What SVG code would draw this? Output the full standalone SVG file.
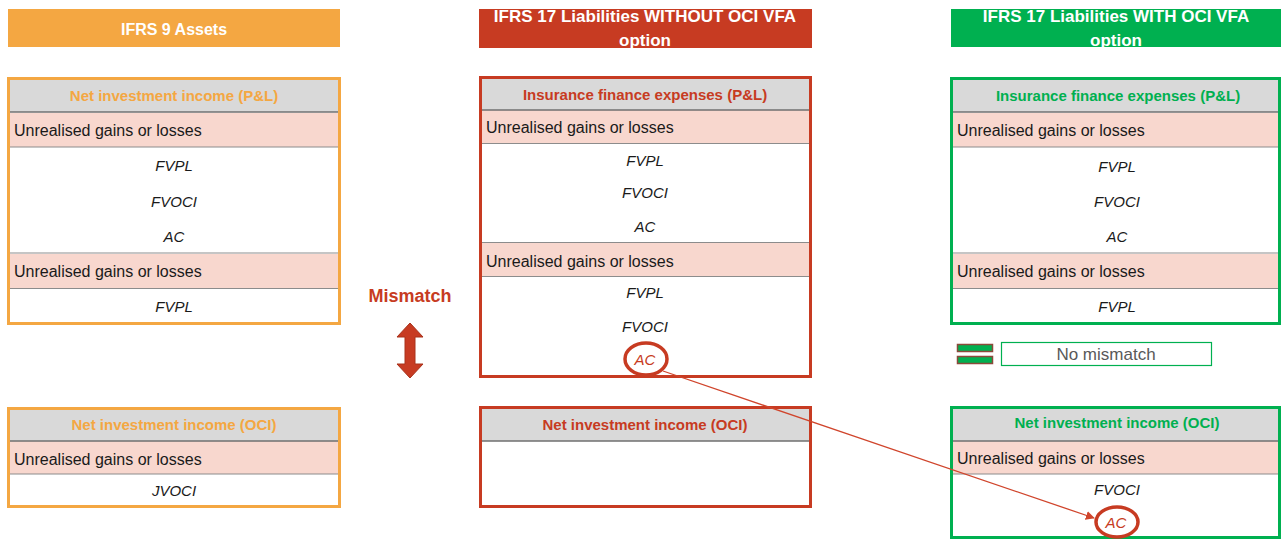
<svg xmlns="http://www.w3.org/2000/svg" width="1282" height="539" viewBox="0 0 1282 539">
  <style>
    text { font-family: "Liberation Sans", Arial, sans-serif; }
    .bar-title { font-size: 16px; font-weight: bold; fill: #ffffff; text-anchor: middle; }
    .bar-title.long { font-size: 17px; }
    .sec-title { font-size: 15px; font-weight: bold; text-anchor: middle; }
    .row { font-size: 16px; fill: #1a1a1a; }
    .item { font-size: 15px; font-style: italic; fill: #1a1a1a; text-anchor: middle; }
    .item.flag { fill: #c73b22; }
    .gray { fill: #d9d9d9; }
    .pink { fill: #f8d7ce; }
    .rule { stroke: #8c8c8c; stroke-width: 1.2; }
    .rule-dark { stroke: #6f6f6f; stroke-width: 1.5; }
    .orange { stroke: #f4a742; }
    .red { stroke: #c73b22; }
    .green { stroke: #00b050; }
    .frame { fill: #ffffff; stroke-width: 3; }
    .ring { fill: none; stroke: #c73b22; stroke-width: 3.5; }
  </style>
  <defs>
    <marker id="arrowhead" viewBox="0 0 10 10" refX="9" refY="5" markerWidth="9" markerHeight="9" orient="auto" markerUnits="userSpaceOnUse">
      <path d="M0,0 L10,5 L0,10 z" fill="#d0452c"/>
    </marker>
  </defs>

  <rect width="1282" height="539" fill="#ffffff"/>

  <!-- Column headers -->
  <g id="hdr-ifrs9">
    <rect x="8" y="9" width="332" height="38" fill="#f4a742"/>
    <text class="bar-title" x="174" y="35">IFRS 9 Assets</text>
  </g>
  <g id="hdr-without-oci">
    <rect x="479" y="9" width="333" height="39" fill="#c73b22"/>
    <text class="bar-title long" x="645" y="22">IFRS 17 Liabilities WITHOUT OCI VFA</text>
    <text class="bar-title long" x="645" y="46">option</text>
  </g>
  <g id="hdr-with-oci">
    <rect x="951" y="9" width="330" height="38" fill="#00b050"/>
    <text class="bar-title long" x="1116" y="22">IFRS 17 Liabilities WITH OCI VFA</text>
    <text class="bar-title long" x="1116" y="46">option</text>
  </g>

  <!-- IFRS 9: P&L -->
  <g id="ifrs9-pl">
    <rect class="frame orange" x="8.5" y="78.5" width="331" height="245"/>
    <rect class="gray" x="10" y="80" width="328" height="32"/>
    <rect class="pink" x="10" y="113" width="328" height="34"/>
    <rect class="pink" x="10" y="254" width="328" height="34"/>
    <line class="rule-dark" x1="10" y1="112" x2="338" y2="112"/>
    <line class="rule" x1="10" y1="147" x2="338" y2="147"/>
    <line class="rule" x1="10" y1="253" x2="338" y2="253"/>
    <line class="rule" x1="10" y1="288.5" x2="338" y2="288.5"/>
    <text class="sec-title" x="174" y="101" fill="#f4a742">Net investment income (P&amp;L)</text>
    <text class="row" x="14" y="136">Unrealised gains or losses</text>
    <text class="item" x="174" y="171">FVPL</text>
    <text class="item" x="174" y="207">FVOCI</text>
    <text class="item" x="174" y="242">AC</text>
    <text class="row" x="14" y="277">Unrealised gains or losses</text>
    <text class="item" x="174" y="312">FVPL</text>
  </g>

  <!-- IFRS 9: OCI -->
  <g id="ifrs9-oci">
    <rect class="frame orange" x="8.5" y="408.5" width="331" height="98"/>
    <rect class="gray" x="10" y="410" width="328" height="31"/>
    <rect class="pink" x="10" y="441" width="328" height="33"/>
    <line class="rule-dark" x1="10" y1="441" x2="338" y2="441"/>
    <line class="rule" x1="10" y1="474" x2="338" y2="474"/>
    <text class="sec-title" x="174" y="430" fill="#f4a742">Net investment income (OCI)</text>
    <text class="row" x="14" y="465">Unrealised gains or losses</text>
    <text class="item" x="174" y="496">JVOCI</text>
  </g>

  <!-- IFRS 17 without OCI: P&L -->
  <g id="without-oci-pl">
    <rect class="frame red" x="480.5" y="77.5" width="330" height="299"/>
    <rect class="gray" x="482" y="79" width="327" height="31"/>
    <rect class="pink" x="482" y="110" width="327" height="33"/>
    <rect class="pink" x="482" y="243" width="327" height="33"/>
    <line class="rule-dark" x1="482" y1="110" x2="809" y2="110"/>
    <line class="rule" x1="482" y1="143.5" x2="809" y2="143.5"/>
    <line class="rule" x1="482" y1="242.5" x2="809" y2="242.5"/>
    <line class="rule" x1="482" y1="276.5" x2="809" y2="276.5"/>
    <text class="sec-title" x="645" y="100" fill="#c73b22">Insurance finance expenses (P&amp;L)</text>
    <text class="row" x="486" y="133">Unrealised gains or losses</text>
    <text class="item" x="645" y="166">FVPL</text>
    <text class="item" x="645" y="198">FVOCI</text>
    <text class="item" x="645" y="232">AC</text>
    <text class="row" x="486" y="267">Unrealised gains or losses</text>
    <text class="item" x="645" y="298">FVPL</text>
    <text class="item" x="645" y="332">FVOCI</text>
    <ellipse class="ring" cx="646" cy="359" rx="21" ry="16"/>
    <text class="item flag" x="645" y="365">AC</text>
  </g>

  <!-- IFRS 17 without OCI: OCI -->
  <g id="without-oci-oci">
    <rect class="frame red" x="480.5" y="407.5" width="330" height="99"/>
    <rect class="gray" x="482" y="409" width="327" height="32"/>
    <line class="rule-dark" x1="482" y1="441" x2="809" y2="441"/>
    <text class="sec-title" x="645" y="430" fill="#c73b22">Net investment income (OCI)</text>
  </g>

  <!-- Mismatch marker -->
  <g id="mismatch">
    <text x="410" y="302" font-size="18" font-weight="bold" fill="#c73b22" text-anchor="middle">Mismatch</text>
    <path d="M410,323 L423,337 L415,337 L415,364 L423,364 L410,378 L397,364 L405,364 L405,337 L397,337 Z" fill="#c73b22" stroke="#a9321b" stroke-width="1"/>
  </g>

  <!-- IFRS 17 with OCI: P&L -->
  <g id="with-oci-pl">
    <rect class="frame green" x="951.5" y="78.5" width="328" height="245"/>
    <rect class="gray" x="953" y="80" width="325" height="32"/>
    <rect class="pink" x="953" y="113" width="325" height="34"/>
    <rect class="pink" x="953" y="254" width="325" height="34"/>
    <line class="rule-dark" x1="953" y1="112" x2="1278" y2="112"/>
    <line class="rule" x1="953" y1="147" x2="1278" y2="147"/>
    <line class="rule" x1="953" y1="253" x2="1278" y2="253"/>
    <line class="rule" x1="953" y1="288.5" x2="1278" y2="288.5"/>
    <text class="sec-title" x="1118" y="101" fill="#00b050">Insurance finance expenses (P&amp;L)</text>
    <text class="row" x="957" y="136">Unrealised gains or losses</text>
    <text class="item" x="1117" y="172">FVPL</text>
    <text class="item" x="1117" y="207">FVOCI</text>
    <text class="item" x="1117" y="242">AC</text>
    <text class="row" x="957" y="277">Unrealised gains or losses</text>
    <text class="item" x="1117" y="312">FVPL</text>
  </g>

  <!-- Legend: equals sign -->
  <g id="legend-no-mismatch">
    <rect x="957.5" y="344.5" width="35" height="7" fill="#00b050" stroke="#8b4a3a" stroke-width="1.5"/>
    <rect x="957.5" y="356.5" width="35" height="7" fill="#00b050" stroke="#8b4a3a" stroke-width="1.5"/>
    <rect x="1001.5" y="342.5" width="210" height="23" fill="#ffffff" stroke="#00b050" stroke-width="1.2"/>
    <text x="1106" y="360" font-size="17" fill="#595959" text-anchor="middle">No mismatch</text>
  </g>

  <!-- IFRS 17 with OCI: OCI -->
  <g id="with-oci-oci">
    <rect class="frame green" x="951.5" y="407.5" width="328" height="130"/>
    <rect class="gray" x="953" y="409" width="325" height="32"/>
    <rect class="pink" x="953" y="441" width="325" height="33"/>
    <line class="rule-dark" x1="953" y1="441" x2="1278" y2="441"/>
    <line class="rule" x1="953" y1="474" x2="1278" y2="474"/>
    <text class="sec-title" x="1117" y="428" fill="#00b050">Net investment income (OCI)</text>
    <text class="row" x="957" y="464">Unrealised gains or losses</text>
    <text class="item" x="1117" y="495">FVOCI</text>
    <ellipse class="ring" cx="1117" cy="522" rx="21" ry="15"/>
    <text class="item flag" x="1116" y="528">AC</text>
  </g>

  <!-- Connectors -->
  <g id="connectors">
    <line x1="663" y1="371" x2="1094" y2="518" stroke="#d0452c" stroke-width="1.3" marker-end="url(#arrowhead)"/>
  </g>
</svg>
